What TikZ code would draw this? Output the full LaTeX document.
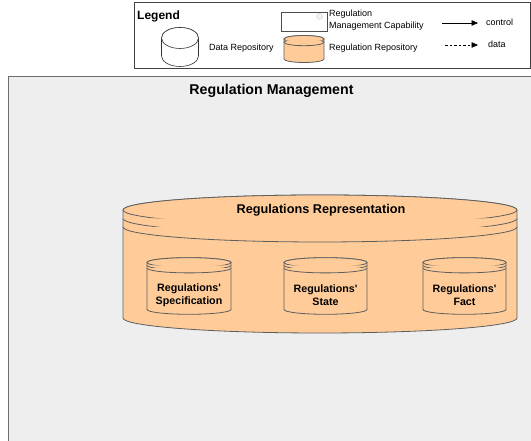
\documentclass[tikz,border=0pt]{standalone}
\usepackage{fontspec}
\setmainfont{Liberation Sans}
\usetikzlibrary{arrows.meta}

\definecolor{panelfill}{HTML}{EEEEEE}
\definecolor{panelline}{HTML}{6E6E6E}
\definecolor{orangefill}{HTML}{FFCC99}
\definecolor{storeline}{HTML}{5E5E5E}
\definecolor{dotgrey}{HTML}{D8D8D8}

% Data store drawn as a cylinder: #1 style, #2 centre x, #3 top-ellipse centre y,
% #4 half width, #5 bottom-ellipse centre y, #6 ellipse y radius,
% #7 spacing of the extra rims under the top (0 = none)
\newcommand{\storeshape}[7]{%
  \filldraw[#1] (#2-#4,#3) -- (#2-#4,#5)
    arc[start angle=180,end angle=360,x radius=#4pt,y radius=#6pt]
    -- (#2+#4,#3)
    arc[start angle=0,end angle=180,x radius=#4pt,y radius=#6pt] -- cycle;
  \draw[#1] (#2,#3) ellipse[x radius=#4pt,y radius=#6pt];
  \ifdim #7pt>0pt
    \draw[#1] (#2-#4,#3-#7) arc[start angle=180,end angle=360,x radius=#4pt,y radius=#6pt];
    \draw[#1] (#2-#4,#3-2*#7) arc[start angle=180,end angle=360,x radius=#4pt,y radius=#6pt];
  \fi
}

\tikzset{
  panel/.style={draw=panelline, fill=panelfill, line width=0.8pt},
  legendbox/.style={draw=black!75, fill=white, line width=0.7pt},
  plainstore/.style={draw=black!80, fill=white, line width=0.6pt},
  regstore/.style={draw=storeline, fill=orangefill, line width=0.8pt},
  capbox/.style={draw=black!70, fill=white, line width=0.6pt},
  legtext/.style={font=\fontsize{9}{12}\selectfont, anchor=west, inner sep=0pt, align=left},
  boldtitle/.style={font=\fontsize{14.2}{16}\selectfont\bfseries, inner sep=0pt},
  storelabel/.style={font=\fontsize{10.7}{12.8}\selectfont\bfseries, align=center, inner sep=0pt},
  ctrlarrow/.style={-{Triangle[length=6.5pt,width=5.5pt]}, line width=0.7pt},
  dataarrow/.style={-{Triangle[length=6.5pt,width=5.5pt]}, dashed, dash pattern=on 2.5pt off 2pt, line width=0.7pt},
}

\begin{document}
\begin{tikzpicture}[x=1pt,y=1pt]
\useasboundingbox (0,0) rectangle (531,441);

% ---------- legend ----------
\draw[legendbox] (134,439) rectangle (530,373);
\node[font=\fontsize{12}{14}\selectfont\bfseries, anchor=west, inner sep=0pt] (legendtitle) at (137,425) {Legend};

\storeshape{plainstore}{180}{403}{18.5}{385}{10.5}{0}
\node[legtext] (datarepo) at (209,393) {Data Repository};

\draw[capbox] (281,429) rectangle (327,410);
\filldraw[draw=dotgrey, fill=black!5, line width=0.5pt] (319.5,424.5) circle (3pt);
\node[legtext, anchor=north west] (capability) at (329,431) {Regulation\\Management Capability};

\storeshape{regstore}{304}{402}{20}{382}{3.5}{1.6}
\node[legtext] (regrepo) at (329,393) {Regulation Repository};

\coordinate (c1) at (442,418);
\coordinate (c2) at (478,418);
\draw[ctrlarrow] (c1) -- (c2);
\node[legtext] (control) at (486,419) {control};

\coordinate (d1) at (445,396);
\coordinate (d2) at (478,396);
\draw[dataarrow] (d1) -- (d2);
\node[legtext] (data) at (488,397) {data};

% ---------- regulation management panel ----------
\draw[panel] (8,-5) rectangle (540,365);
\node[boldtitle] (mgmt) at (271.5,350) {Regulation Management};

% outer repository
\storeshape{regstore}{320}{231}{197}{123}{15}{8.5}
\node[font=\fontsize{12.7}{15}\selectfont\bfseries, inner sep=0pt] (representation) at (321,231) {Regulations Representation};

% inner repositories
\storeshape{regstore}{189}{178.5}{42}{131.5}{4.8}{2.8}
\node[storelabel] (spec) at (189,146) {Regulations\textquotesingle\\Specification};

\storeshape{regstore}{325.5}{178.5}{41.5}{131.5}{4.8}{2.8}
\node[storelabel] (state) at (325.5,146) {Regulations\textquotesingle\\State};

\storeshape{regstore}{464.5}{178.5}{41.5}{131.5}{4.8}{2.8}
\node[storelabel] (fact) at (464.5,146) {Regulations\textquotesingle\\Fact};
\end{tikzpicture}
\end{document}
